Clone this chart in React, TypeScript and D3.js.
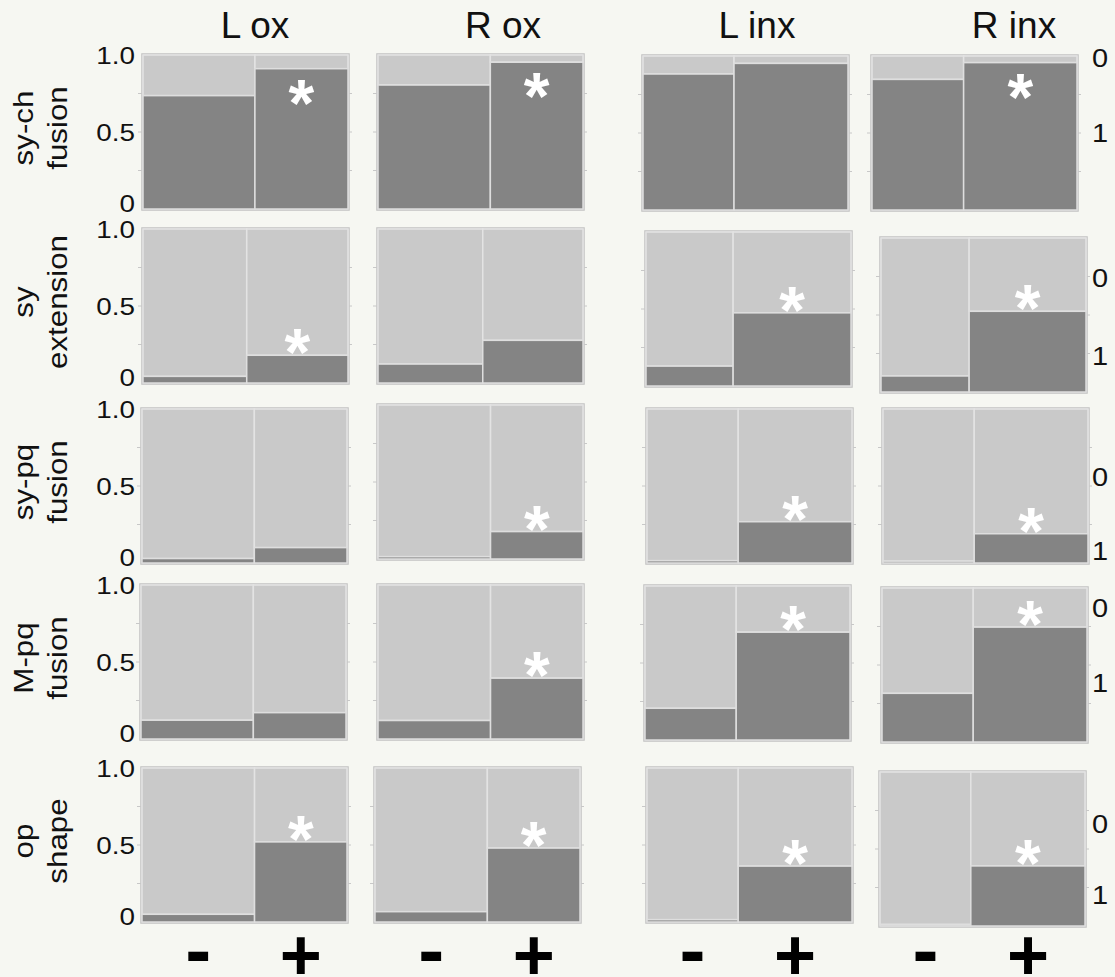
import React, { useEffect } from 'react';
import * as d3 from 'd3';

// column headers, row labels and axis text
const columns = ['L ox', 'R ox', 'L inx', 'R inx'];
const rowLabels = [
  ['sy-ch', 'fusion'],
  ['sy', 'extension'],
  ['sy-pq', 'fusion'],
  ['M-pq', 'fusion'],
  ['op', 'shape'],
];
const groups = ['-', '+'];
const yTicks = [0, 0.5, 1];
const yTickLabels = ['0', '0.5', '1.0'];
const rightLevels = ['0', '1'];

// share of "-" cases in each panel (width of the left mosaic bar)
const minusShare = [
  [0.546, 0.548, 0.444, 0.447],
  [0.506, 0.511, 0.425, 0.43],
  [0.548, 0.549, 0.445, 0.445],
  [0.548, 0.549, 0.445, 0.445],
  [0.549, 0.548, 0.445, 0.443],
];

// proportion scored "1" (dark) for "-" and "+"
const propMinus = [
  [0.736, 0.805, 0.883, 0.848],
  [0.043, 0.123, 0.129, 0.104],
  [0.029, 0.015, 0.015, 0.012],
  [0.122, 0.12, 0.206, 0.316],
  [0.05, 0.067, 0.015, 0.01],
];
const propPlus = [
  [0.911, 0.953, 0.952, 0.957],
  [0.18, 0.277, 0.475, 0.524],
  [0.1, 0.178, 0.268, 0.19],
  [0.171, 0.395, 0.7, 0.746],
  [0.52, 0.48, 0.363, 0.39],
];
const significant = [
  [1, 1, 0, 1],
  [1, 0, 1, 1],
  [0, 1, 1, 1],
  [0, 1, 1, 1],
  [1, 1, 1, 1],
];
// where JMP put the right-hand level labels (axis units, last column)
const rightLevelPos = [
  [0.99, 0.5],
  [0.74, 0.235],
  [0.556, 0.08],
  [0.87, 0.38],
  [0.66, 0.2],
];

// layout
const W = 1115;
const H = 977;
const colX = [142, 378, 645, 881];
const rowY = [55, 229, 409, 585, 768];
const panelW = 205;
const panelH = 154;
// panels of the original figure were pasted by hand, so they are a bit off grid
const nudge = [
  [[1, 0], [0, 0], [-2, 1], [-9, 1]],
  [[1, 0], [0, 0], [1, 3], [0, 9]],
  [[0, 0], [0, -4], [2, 0], [2, 0]],
  [[-1, 0], [0, 0], [0, 1], [1, 3]],
  [[0, 0], [-3, 0], [2, 0], [-1, 4]],
];
const titleX = [255, 503, 757, 1014];

const LIGHT = '#c9c9c9';
const DARK = '#848484';
const BG = '#f6f7f2';
const FONT = '"Liberation Sans", Arial, sans-serif';
const STRETCH = 1.16; // axis text in the original is a little wide

function panelScales(r, c) {
  const x0 = colX[c] + nudge[r][c][0];
  const y0 = rowY[r] + nudge[r][c][1];
  const x = d3.scaleLinear().domain([0, 1]).range([x0, x0 + panelW]);
  const y = d3.scaleLinear().domain([0, 1]).range([y0 + panelH, y0]);
  return { x, y };
}

function Panel({ r, c }) {
  const { x, y } = panelScales(r, c);
  const share = minusShare[r][c];
  const bars = [
    { x0: 0, x1: share, p: propMinus[r][c] },
    { x0: share, x1: 1, p: propPlus[r][c] },
  ];
  const plus = bars[1];
  const lightRoom = y(plus.p) - y(1);
  const starY = lightRoom > 30 ? y(plus.p) - 17 : y(plus.p) + 20;

  return (
    <g>
      <rect x={x(0) - 1} y={y(1) - 1} width={x(1) - x(0) + 2} height={y(0) - y(1) + 2}
        fill="none" stroke="#c2c2c2" strokeWidth={1.5} />
      {[0.25, 0.5, 0.75].map((t) => (
        <g key={t} stroke="#c8c8c8" strokeWidth={1}>
          <line x1={x(0) - 5} x2={x(0) - 1} y1={y(t)} y2={y(t)} />
          <line x1={x(1) + 1} x2={x(1) + 4} y1={y(t)} y2={y(t)} />
        </g>
      ))}
      {bars.map((b, i) => (
        <g key={i}>
          <rect x={x(b.x0)} y={y(1)} width={x(b.x1) - x(b.x0)} height={y(b.p) - y(1)}
            fill={LIGHT} stroke="#e3e3e3" strokeWidth={1.5} />
          <rect x={x(b.x0)} y={y(b.p)} width={x(b.x1) - x(b.x0)} height={y(0) - y(b.p)}
            fill={DARK} stroke="#dedede" strokeWidth={1.5} />
        </g>
      ))}
      {significant[r][c] ? (
        <text x={(x(plus.x0) + x(plus.x1)) / 2} y={starY + 37} textAnchor="middle"
          fill="#ffffff" fontSize={66} fontWeight="bold" fontFamily={FONT}>*</text>
      ) : null}
    </g>
  );
}

export default function App() {
  useEffect(() => {
    document.body.style.margin = '0';
    document.body.style.background = BG;
  }, []);

  const lastRow = rowLabels.length - 1;
  const lastCol = columns.length - 1;

  return (
    <svg width={W} height={H} style={{ display: 'block' }} fontFamily={FONT}>
      <rect width={W} height={H} fill={BG} />

      {columns.map((name, c) => (
        <text key={name} x={titleX[c]} y={38} textAnchor="middle" fontSize={37} fill="#111">{name}</text>
      ))}

      {rowLabels.map((lines, r) => {
        const { y } = panelScales(r, 0);
        const cy = y(0.5) - 4;
        const right = panelScales(r, lastCol);
        return (
          <g key={r} fill="#111">
            {lines.map((line, i) => (
              <text key={line} transform={`translate(${[33, 67][i]},${cy}) rotate(-90) scale(${STRETCH},1)`}
                textAnchor="middle" fontSize={27}>{line}</text>
            ))}
            {yTicks.map((t, k) => (
              <text key={t} transform={`translate(135,${y(t) - (t === 0 ? 6 : 0)}) scale(${STRETCH},1)`}
                dy="0.36em" textAnchor="end" fontSize={24}>
                {yTickLabels[k]}
              </text>
            ))}
            {rightLevels.map((lv, k) => (
              <text key={lv} transform={`translate(1100,${right.y(rightLevelPos[r][k])}) scale(${STRETCH},1)`}
                dy="0.36em" textAnchor="middle" fontSize={25}>{lv}</text>
            ))}
          </g>
        );
      })}

      {rowLabels.map((_, r) => columns.map((__, c) => <Panel key={`${r}-${c}`} r={r} c={c} />))}

      {columns.map((_, c) => {
        const { x } = panelScales(lastRow, c);
        const share = minusShare[lastRow][c];
        const centers = [(x(0) + x(share)) / 2, (x(share) + x(1)) / 2];
        return groups.map((g, i) => (
          <text key={`${c}-${g}`} x={centers[i]} y={i === 0 ? 977 : 980} textAnchor="middle"
            fontSize={i === 0 ? 78 : 72} fontWeight="bold" fill="#000">{g}</text>
        ));
      })}
    </svg>
  );
}
